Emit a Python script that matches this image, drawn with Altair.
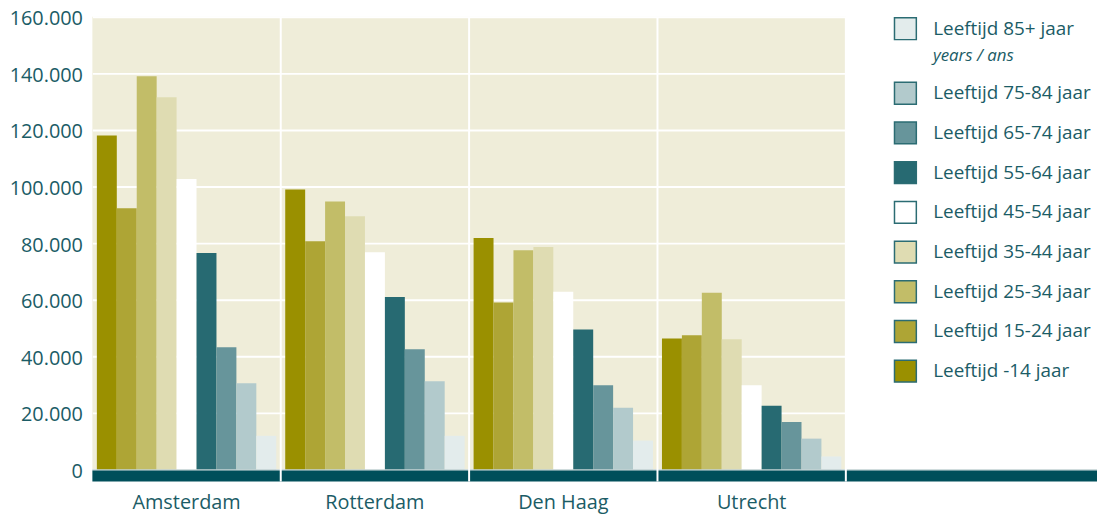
import altair as alt
import pandas as pd

cities = ["Amsterdam", "Rotterdam", "Den Haag", "Utrecht"]
ages = [
    "Leeftijd -14 jaar", "Leeftijd 15-24 jaar", "Leeftijd 25-34 jaar",
    "Leeftijd 35-44 jaar", "Leeftijd 45-54 jaar", "Leeftijd 55-64 jaar",
    "Leeftijd 65-74 jaar", "Leeftijd 75-84 jaar", "Leeftijd 85+ jaar",
]
colors = ["#9a9000", "#aea535", "#c2bd68", "#dfdcb2", "#ffffff",
          "#276a72", "#67959b", "#b2cacc", "#e3ecec"]

amsterdam = [118000, 92300, 139000, 131600, 102700, 76500, 43200, 30500, 11900]
rotterdam = [99000, 80700, 94700, 89500, 76800, 61000, 42500, 31200, 11900]
den_haag = [81800, 59000, 77500, 78600, 62800, 49500, 29800, 21800, 10200]
utrecht = [46300, 47400, 62500, 46000, 29800, 22500, 16800, 10900, 4600]

y_ticks = list(range(0, 160001, 20000))
subtitle = "years / ans"

TEXT = "#1b5c66"
DARK = "#004f5a"
BG = "#efedd9"
FONT = "Open Sans"

rows = []
for city, vals in zip(cities, [amsterdam, rotterdam, den_haag, utrecht]):
    for a, v in zip(ages, vals):
        rows.append({"city": city, "age": a, "value": v})
df = pd.DataFrame(rows)

main_ages = ages[:-1]
legend_order = main_ages[::-1]
legend_colors = colors[:-1][::-1]

x_scale = alt.Scale(domain=cities, paddingInner=0, paddingOuter=0)
x_enc = alt.X("city:N", sort=cities, scale=x_scale,
              axis=alt.Axis(title=None, domain=False, ticks=False, grid=False,
                            labelAngle=0, labelPadding=23, labelFontSize=20))
xoff = alt.XOffset("age:N", sort=ages,
                   scale=alt.Scale(domain=ages, paddingInner=0, paddingOuter=0.225))
y_enc = alt.Y("value:Q", scale=alt.Scale(domain=[0, 160000], nice=False),
              axis=alt.Axis(title=None, values=y_ticks, domain=False, ticks=False,
                            grid=True, gridColor="white", gridWidth=2,
                            labelPadding=10, labelFontSize=20, labelOffset=2,
                            labelExpr="replace(format(datum.value, ','), ',', '.')"))

base = alt.Chart(df)

bars_main = base.transform_filter(
    alt.FieldOneOfPredicate(field="age", oneOf=main_ages)
).mark_bar().encode(
    x=x_enc, xOffset=xoff, y=y_enc,
    color=alt.Color("age:N", scale=alt.Scale(domain=legend_order, range=legend_colors),
                    legend=alt.Legend(title=None, orient="none", legendX=807, legendY=65)),
)

bars_85 = base.transform_filter(
    alt.FieldEqualPredicate(field="age", equal=ages[-1])
).mark_bar().encode(
    x=x_enc, xOffset=xoff, y=y_enc,
    fill=alt.Fill("age:N", scale=alt.Scale(domain=[ages[-1]], range=[colors[-1]]),
                  legend=alt.Legend(title="\u200b" + "\u00a0" * 9 + subtitle, titleOrient="bottom",
                                    titleFontStyle="italic", titleFontWeight="normal",
                                    titleFontSize=17, titleColor=TEXT, titleFont=FONT,
                                    titlePadding=6,
                                    orient="none", legendX=807, legendY=0)),
)

one_row = pd.DataFrame({"city": ["Amsterdam"]})
dark_bar = alt.Chart(one_row).mark_rect(color=DARK).encode(
    x=alt.value(0), x2=alt.value(1012), y=alt.value(457), y2=alt.value(468)
)
light_line = alt.Chart(one_row).mark_rule(color="#a9bec1", strokeWidth=1).encode(
    x=alt.value(0), x2=alt.value(1012), y=alt.value(456.5)
)

sep_df = pd.DataFrame({"city": cities[1:]})
seps = alt.Chart(sep_df).mark_rule(color="white", strokeWidth=2).encode(
    x=alt.X("city:N", sort=cities, scale=x_scale, bandPosition=0),
    y=alt.value(0), y2=alt.value(468),
)
end_sep = alt.Chart(pd.DataFrame({"city": [cities[-1]]})).mark_rule(color="white", strokeWidth=2).encode(
    x=alt.X("city:N", sort=cities, scale=x_scale, bandPosition=1),
    y=alt.value(0), y2=alt.value(468),
)

chart = alt.layer(bars_main, bars_85, light_line, dark_bar, seps, end_sep).properties(
    width=759, height=456,
    autosize=alt.AutoSizeParams(type="none"),
    padding={"left": 85, "top": 7, "right": 253, "bottom": 43},
).configure_view(
    fill=BG, stroke=None
).configure_axis(
    labelFont=FONT, labelColor=TEXT
).configure_legend(
    symbolType="square", symbolSize=484, symbolStrokeWidth=1.5,
    symbolStrokeColor="#2b6c73", labelFont=FONT, labelFontSize=19,
    labelColor=TEXT, labelOffset=16, rowPadding=12, padding=0, labelLimit=0,
)

chart.save("out.html", embed_options={"renderer": "svg", "actions": False})
